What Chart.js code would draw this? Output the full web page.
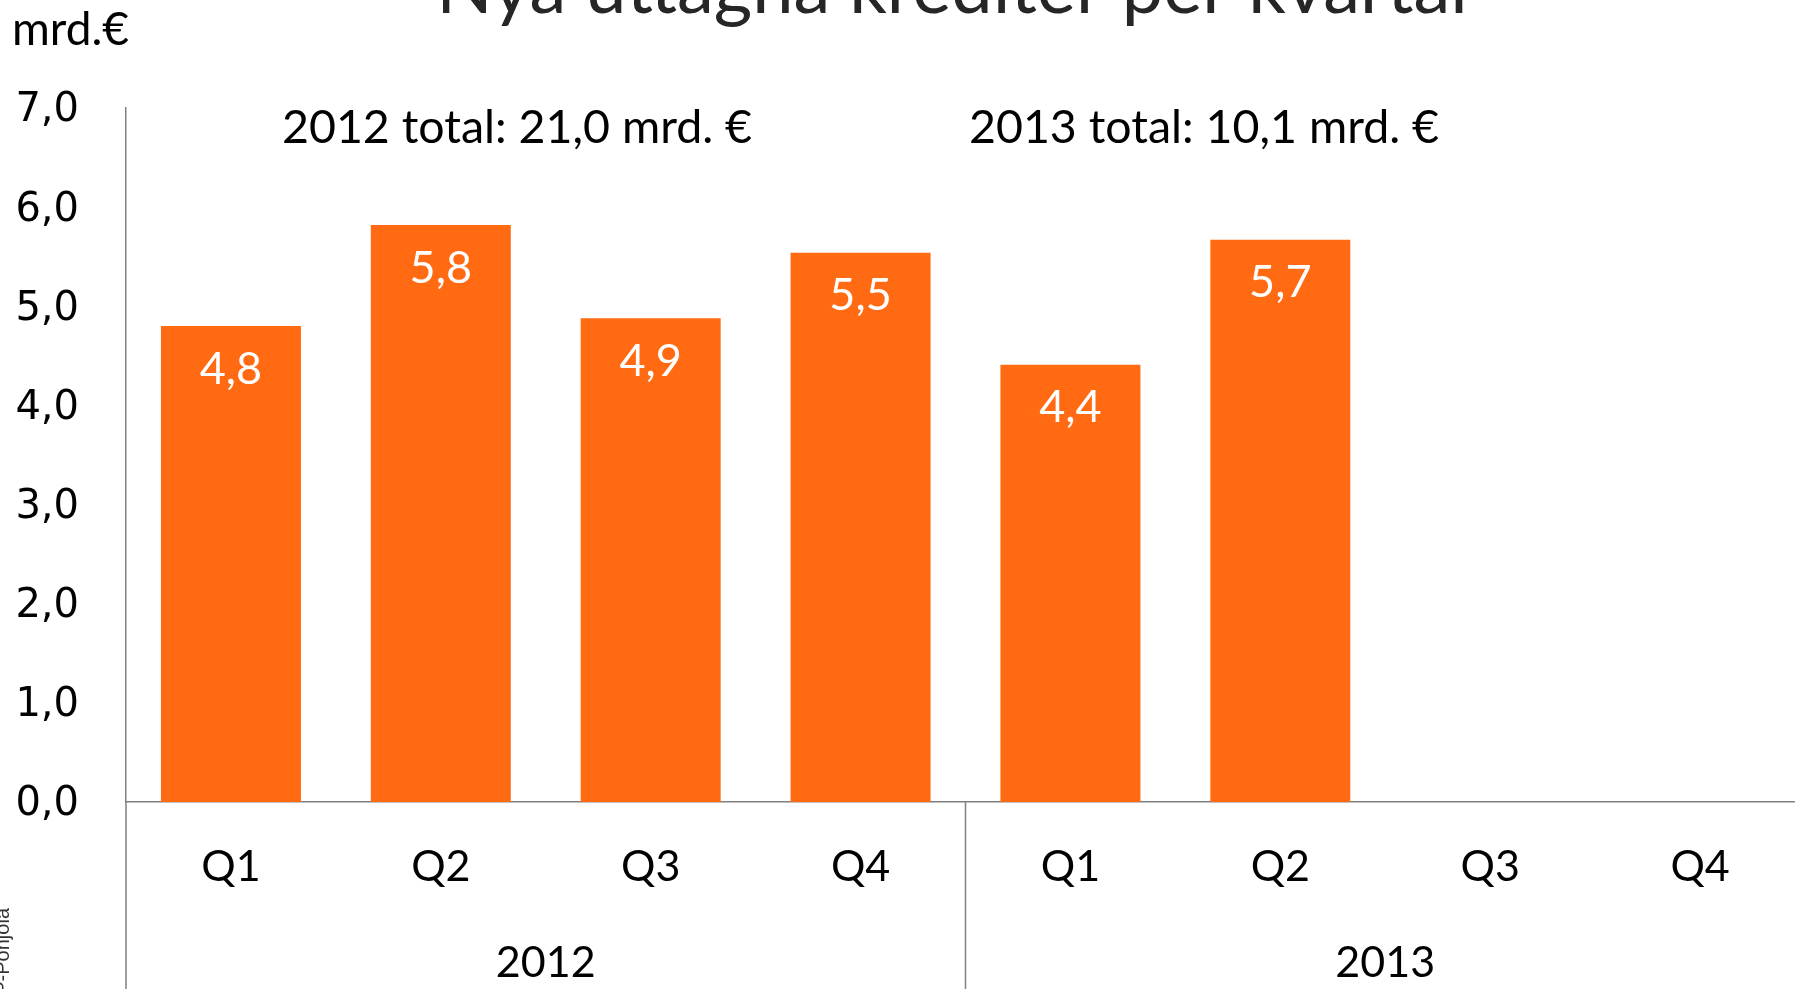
<!DOCTYPE html>
<html>
<head>
<meta charset="utf-8">
<script src="https://cdn.jsdelivr.net/npm/chart.js@4.4.0/dist/chart.umd.min.js"></script>
<style>
    html, body { margin: 0; padding: 0; overflow: hidden; background: #fff; }
    #wrap { width: 1805px; height: 989px; }
</style>
</head>
<body>
<div id="wrap"><canvas id="kredit" width="1805" height="989"></canvas></div>
<script>
// data
const quarters = ['Q1', 'Q2', 'Q3', 'Q4', 'Q1', 'Q2', 'Q3', 'Q4'];
const years = ['2012', '2013'];
const credits = [4.8, 5.82, 4.88, 5.54, 4.41, 5.67, null, null];
const yMin = 0;
const yMax = 7;
const yStep = 1;
const totals = ['2012 total: 21,0 mrd. €', '2013 total: 10,1 mrd. €'];
const title = 'Nya uttagna krediter per kvartal';
const unit = 'mrd.€';
const source = 'OP-Pohjola';

const orange = '#FF6A13';
const axisGray = '#808080';

function fmt(v){
    return v.toFixed(1).replace('.', ',');
}

// texter runt diagrammet //
const decorPlugin = {
    id: 'decor',
    afterDraw(chart){
        let ctx = chart.ctx;
        let x = chart.scales.x;
        let area = chart.chartArea;
        ctx.save();

        // förlängda axellinjer
        ctx.strokeStyle = axisGray;
        ctx.lineWidth = 1.5;
        ctx.beginPath();
        ctx.moveTo(area.left, area.bottom);
        ctx.lineTo(area.left, chart.height);
        let sep = (x.getPixelForValue(3) + x.getPixelForValue(4)) / 2;
        ctx.moveTo(sep, area.bottom);
        ctx.lineTo(sep, chart.height);
        ctx.stroke();

        // årtal under kvartalen
        ctx.fillStyle = '#000';
        ctx.font = '43px Lato';
        ctx.textAlign = 'center';
        ctx.textBaseline = 'middle';
        for(let i = 0; i < years.length; i++){
            let cx = (x.getPixelForValue(i * 4) + x.getPixelForValue(i * 4 + 3)) / 2;
            ctx.fillText(years[i], cx, area.bottom + 161);
        }

        // totalsummor
        ctx.font = '46.5px Lato';
        ctx.fillText(totals[0], area.left + 391, area.top + 20);
        ctx.fillText(totals[1], area.left + 1078, area.top + 20);

        // rubrik (avskuren upptill)
        ctx.fillStyle = '#262626';
        ctx.font = '74px Lato';
        ctx.textBaseline = 'alphabetic';
        ctx.fillText(title, 952, 13);

        // enhet
        ctx.fillStyle = '#000';
        ctx.font = '46px Lato';
        ctx.textAlign = 'left';
        ctx.fillText(unit, 12, 45);

        // källa, roterad i vänsterkanten
        ctx.translate(9, 908);
        ctx.rotate(-Math.PI / 2);
        ctx.font = '20px "Liberation Sans"';
        ctx.fillStyle = '#333';
        ctx.textAlign = 'right';
        ctx.fillText(source, 0, 0);
        ctx.restore();
    },
    afterDatasetsDraw(chart){
        let ctx = chart.ctx;
        let meta = chart.getDatasetMeta(0);
        ctx.save();
        ctx.fillStyle = '#fff';
        ctx.font = '45px Lato';
        ctx.textAlign = 'center';
        ctx.textBaseline = 'middle';
        meta.data.forEach(function(bar, i){
            if(credits[i] == null) return;
            ctx.fillText(fmt(credits[i]), bar.x, bar.y + 43);
        });
        ctx.restore();
    }
};

new Chart(document.getElementById('kredit'), {
    type: 'bar',
    data: {
        labels: quarters,
        datasets: [{
            data: credits,
            backgroundColor: orange,
            categoryPercentage: 1,
            barPercentage: 0.667
        }]
    },
    options: {
        responsive: false,
        animation: false,
        devicePixelRatio: 1,
        layout: { padding: { top: 108, left: 0, right: 0, bottom: 0 } },
        plugins: {
            legend: { display: false },
            tooltip: { enabled: false }
        },
        scales: {
            x: {
                grid: { display: false, drawTicks: false },
                border: { display: true, color: axisGray, width: 1.5 },
                ticks: {
                    color: '#000',
                    font: { family: 'Lato', size: 43 },
                    padding: 39,
                    maxRotation: 0,
                    autoSkip: false
                },
                afterFit: function(scale){ scale.height = 187; }
            },
            y: {
                min: yMin,
                max: yMax,
                grid: { display: false, drawTicks: false },
                border: { display: true, color: axisGray, width: 1.5 },
                ticks: {
                    stepSize: yStep,
                    color: '#000',
                    font: { family: 'DejaVu Sans', size: 40 },
                    padding: 47,
                    labelOffset: 3,
                    callback: function(v){ return fmt(v); }
                },
                afterFit: function(scale){ scale.width = 126; }
            }
        }
    },
    plugins: [decorPlugin]
});
</script>
</body>
</html>
